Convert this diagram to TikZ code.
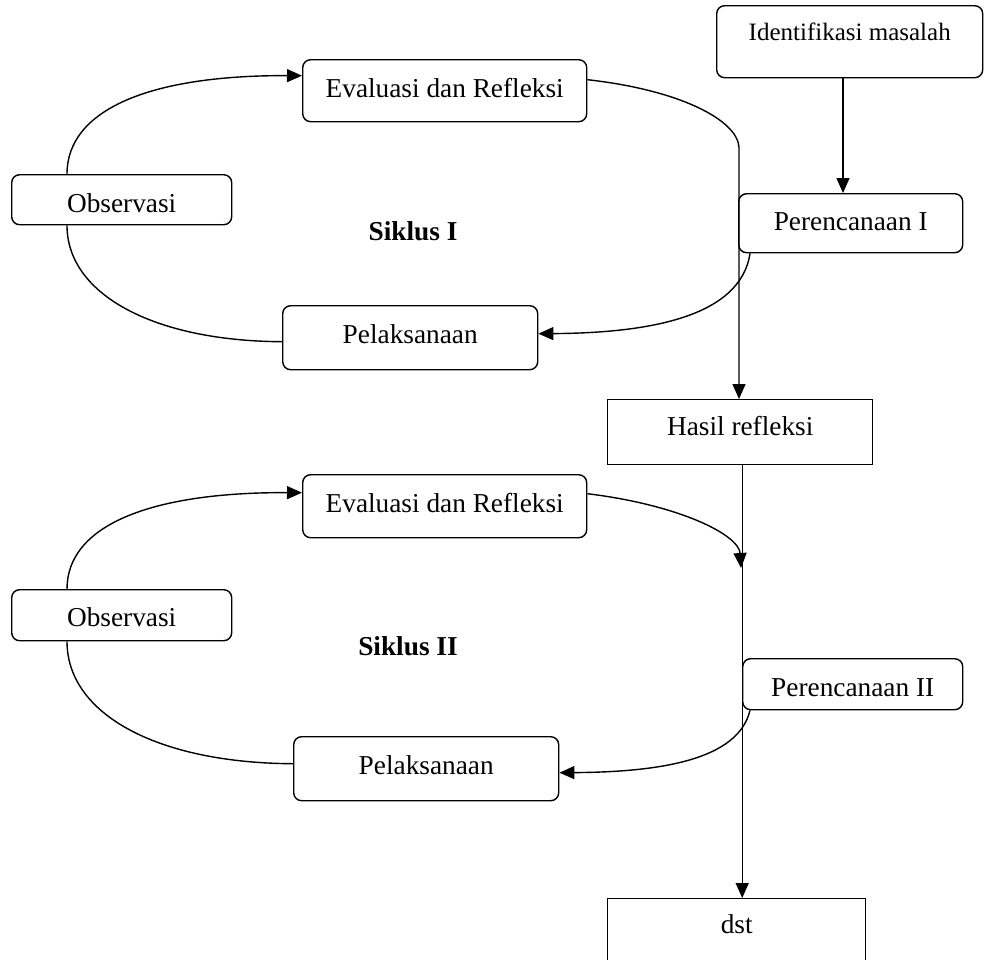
\documentclass[tikz,border=0pt]{standalone}
\usepackage{fontspec}
\setmainfont{Liberation Serif}
\usetikzlibrary{arrows.meta}
\begin{document}
\begin{tikzpicture}[x=1pt,y=-1pt,
  every node/.style={inner sep=0pt, font=\fontsize{27.3}{30}\selectfont},
  rbox/.style={draw, line width=1.4pt, rounded corners=8pt, anchor=north west},
  sbox/.style={draw, line width=1.4pt, anchor=north west},
  conn/.style={line width=1.4pt},
  arr/.style={conn, -{Triangle[length=15pt,width=13pt]}},
  lbl/.style={font=\bfseries\fontsize{27.3}{30}\selectfont, anchor=base}
]
\useasboundingbox (0,0) rectangle (984,959);
\clip (0,0) rectangle (984,959);

% boxes
\node[rbox, minimum width=266pt, text height=35pt, text depth=37pt, font=\fontsize{25}{28}\selectfont] (iden) at (716,5) {Identifikasi masalah};
\node[rbox, minimum width=224pt, text height=37pt, text depth=22pt] (per1) at (738,193) {Perencanaan I};
\node[rbox, minimum width=284pt, text height=38pt, text depth=24pt] (eva1) at (302,59) {Evaluasi dan Refleksi};
\node[rbox, minimum width=220pt, text height=38pt, text depth=12pt] (obs1) at (11,174) {Observasi};
\node[rbox, minimum width=255pt, text height=38pt, text depth=26pt] (pel1) at (282,305) {Pelaksanaan};
\node[lbl] (sik1) at (413,240) {Siklus I};
\node[sbox, minimum width=265pt, text height=36pt, text depth=29pt] (hasil) at (607,399) {Hasil refleksi};
\node[rbox, minimum width=284pt, text height=38pt, text depth=25pt] (eva2) at (302,474) {Evaluasi dan Refleksi};
\node[rbox, minimum width=220pt, text height=37pt, text depth=14pt] (obs2) at (11,589) {Observasi};
\node[lbl] (sik2) at (408,655) {Siklus II};
\node[rbox, minimum width=220pt, text height=38pt, text depth=13pt] (per2) at (742,658) {Perencanaan II};
\node[rbox, minimum width=265pt, text height=38pt, text depth=26pt] (pel2) at (293,736) {Pelaksanaan};
\node[sbox, minimum width=258pt, text height=35pt, text depth=40pt] (dst) at (607,898) {dst};

% helper coordinates
\coordinate (ax) at (843,0);
\coordinate (c1) at (739,147);
\coordinate (j2) at (741,568);

% cycle I
\draw[arr] (iden.south -| ax) -- (per1.north -| ax);
\draw[arr] ([yshift=11pt]eva1.east) .. controls (680,90) and (737,120) .. (c1) -- (c1 |- hasil.north);
\draw[arr] ([xshift=12pt]per1.south west) .. controls (740,320) and (640,333) .. ([yshift=4pt]pel1.east);
\draw[arr] ([xshift=56pt]obs1.north west) .. controls (67,110) and (149,75) .. ([yshift=15pt]eva1.west);
\draw[conn] ([xshift=56pt]obs1.south west) .. controls (67,294) and (153,341) .. ([yshift=-4pt]pel1.west);

% main line
\draw[arr] ([xshift=2pt]hasil.south) -- ([xshift=2pt]hasil.south |- dst.north);

% cycle II
\draw[arr] ([yshift=12.5pt]eva2.east) .. controls (680,505) and (739,535) .. (j2);
\draw[arr] ([xshift=56pt]obs2.north west) .. controls (67,526) and (149,492) .. ([yshift=13.5pt]eva2.west);
\draw[conn] ([xshift=56pt]obs2.south west) .. controls (67,714) and (157,763) .. ([yshift=5pt]pel2.west);
\draw[arr] ([xshift=8pt]per2.south west) .. controls (738,760) and (660,772) .. ([yshift=-4pt]pel2.east);
\end{tikzpicture}
\end{document}
